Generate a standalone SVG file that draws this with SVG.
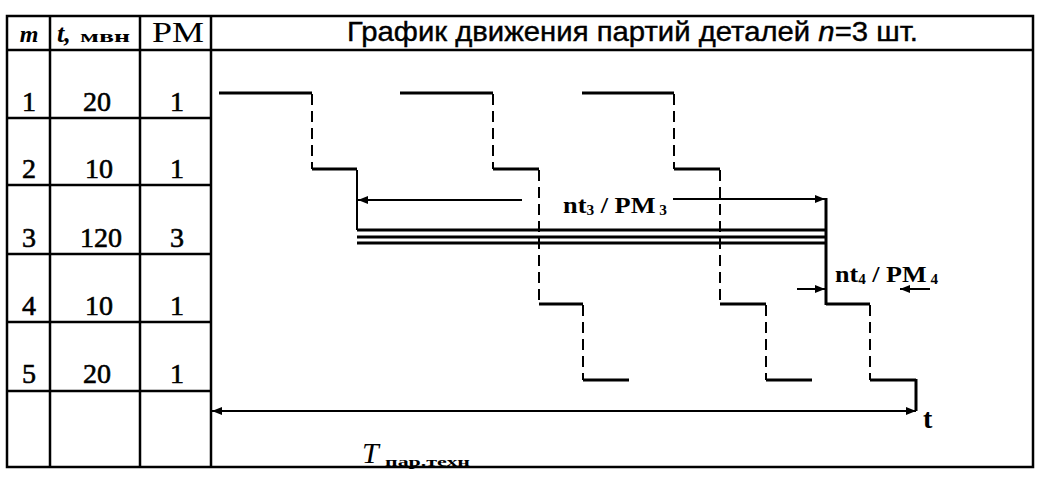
<svg xmlns="http://www.w3.org/2000/svg" width="1063" height="488" viewBox="0 0 1063 488">
<defs>
<style>
.grid{stroke:#000;stroke-width:2.5;fill:none}
.bar{stroke:#000;stroke-width:3;fill:none}
.dash{stroke:#000;stroke-width:2;fill:none;stroke-dasharray:11 6}
.thin{stroke:#000;stroke-width:2;fill:none}
.num{font-family:"Liberation Serif",serif;font-size:28px;text-anchor:middle;fill:#000;stroke:#000;stroke-width:0.6}
.lbl{font-family:"Liberation Serif",serif;font-weight:bold;fill:#000}
</style>
<marker id="ah" viewBox="0 0 10 10" refX="10" refY="5" markerWidth="10" markerHeight="10" markerUnits="userSpaceOnUse" orient="auto-start-reverse">
<path d="M0,1 L10,5 L0,9 Z" fill="#000"/>
</marker>
</defs>
<rect width="1063" height="488" fill="#fff"/>
<g id="table">
<rect class="grid" x="7" y="16" width="1026" height="451"/>
<line class="grid" x1="50" y1="16" x2="50" y2="467"/>
<line class="grid" x1="140" y1="16" x2="140" y2="467"/>
<line class="grid" x1="211" y1="16" x2="211" y2="467"/>
<line class="grid" x1="7" y1="50" x2="1033" y2="50"/>
<line class="grid" x1="7" y1="118" x2="211" y2="118"/>
<line class="grid" x1="7" y1="185" x2="211" y2="185"/>
<line class="grid" x1="7" y1="254" x2="211" y2="254"/>
<line class="grid" x1="7" y1="322" x2="211" y2="322"/>
<line class="grid" x1="7" y1="391" x2="211" y2="391"/>
</g>
<g id="header">
<text x="29" y="42" class="lbl" font-style="italic" font-size="24" text-anchor="middle">m</text>
<text x="57" y="42" class="lbl" font-style="italic" font-size="26">t,</text>
<text x="80" y="42" class="lbl" font-size="16" textLength="50" lengthAdjust="spacingAndGlyphs">мвн</text>
<text x="152" y="42" font-family="Liberation Serif,serif" font-size="29" textLength="52" lengthAdjust="spacingAndGlyphs">РМ</text>
<text x="347" y="41" font-family="Liberation Sans,Arial,sans-serif" font-size="28" stroke="#000" stroke-width="0.4" textLength="571" lengthAdjust="spacingAndGlyphs">График движения партий деталей <tspan font-style="italic">n</tspan>=3 шт.</text>
</g>
<g id="rows">
<text class="num" x="29" y="111">1</text><text class="num" x="97" y="111">20</text><text class="num" x="177" y="111">1</text>
<text class="num" x="29" y="178">2</text><text class="num" x="99" y="178">10</text><text class="num" x="177" y="178">1</text>
<text class="num" x="29" y="247">3</text><text class="num" x="101" y="247">120</text><text class="num" x="177" y="247">3</text>
<text class="num" x="29" y="315">4</text><text class="num" x="99" y="315">10</text><text class="num" x="177" y="315">1</text>
<text class="num" x="29" y="383">5</text><text class="num" x="97" y="383">20</text><text class="num" x="177" y="383">1</text>
</g>
<g id="op1">
<line class="bar" x1="219" y1="93" x2="312" y2="93"/>
<line class="bar" x1="400" y1="93" x2="493" y2="93"/>
<line class="bar" x1="582" y1="93" x2="674" y2="93"/>
</g>
<g id="op2">
<line class="bar" x1="312" y1="169" x2="357" y2="169"/>
<line class="bar" x1="493" y1="169" x2="539" y2="169"/>
<line class="bar" x1="674" y1="169" x2="720" y2="169"/>
</g>
<g id="op3">
<line class="bar" x1="357" y1="230" x2="826" y2="230"/>
<line class="bar" x1="357" y1="237" x2="826" y2="237"/>
<line class="bar" x1="357" y1="243" x2="826" y2="243"/>
</g>
<g id="op4">
<line class="bar" x1="539" y1="304" x2="583" y2="304"/>
<line class="bar" x1="720" y1="304" x2="766" y2="304"/>
<line class="bar" x1="826" y1="304" x2="870" y2="304"/>
</g>
<g id="op5">
<line class="bar" x1="583" y1="380" x2="629" y2="380"/>
<line class="bar" x1="766" y1="380" x2="812" y2="380"/>
<line class="bar" x1="870" y1="380" x2="916" y2="380"/>
</g>
<g id="connectors">
<line class="dash" x1="312" y1="94" x2="312" y2="169"/>
<line class="dash" x1="493" y1="94" x2="493" y2="169"/>
<line class="dash" x1="674" y1="94" x2="674" y2="169"/>
<line class="thin" x1="357" y1="170" x2="357" y2="230"/>
<line class="dash" x1="539" y1="170" x2="539" y2="304"/>
<line class="dash" x1="720" y1="170" x2="720" y2="304"/>
<line class="dash" x1="583" y1="305" x2="583" y2="380"/>
<line class="dash" x1="766" y1="305" x2="766" y2="380"/>
<line class="dash" x1="870" y1="305" x2="870" y2="380"/>
<line class="bar" x1="826" y1="198" x2="826" y2="305"/>
<line class="bar" x1="916" y1="379" x2="916" y2="411"/>
<line class="thin" x1="522" y1="200" x2="358" y2="200" marker-end="url(#ah)"/>
<line class="thin" x1="673" y1="199" x2="825" y2="199" marker-end="url(#ah)"/>
<line class="thin" x1="797" y1="289" x2="825" y2="289" marker-end="url(#ah)"/>
<line class="thin" x1="930" y1="289" x2="900" y2="289" marker-end="url(#ah)"/>
<line class="thin" x1="212" y1="411" x2="916" y2="411" marker-start="url(#ah)" marker-end="url(#ah)"/>
</g>
<g id="labels">
<text x="563" y="213" class="lbl" font-size="24" textLength="104" lengthAdjust="spacingAndGlyphs">nt<tspan font-size="14" dy="2">3</tspan><tspan dy="-2"> / PM</tspan><tspan font-size="14" dy="2"> 3</tspan></text>
<text x="835" y="282" class="lbl" font-size="24" textLength="103" lengthAdjust="spacingAndGlyphs">nt<tspan font-size="14" dy="2">4</tspan><tspan dy="-2"> / PM</tspan><tspan font-size="14" dy="2"> 4</tspan></text>
<text x="923" y="428" font-family="Liberation Serif,serif" font-weight="bold" font-size="28">t</text>
<text x="362" y="463" font-family="Liberation Serif,serif" font-style="italic" font-size="30">T</text>
<text x="385" y="466" class="lbl" font-size="13" textLength="85" lengthAdjust="spacingAndGlyphs">пар.техн</text>
</g>
</svg>
